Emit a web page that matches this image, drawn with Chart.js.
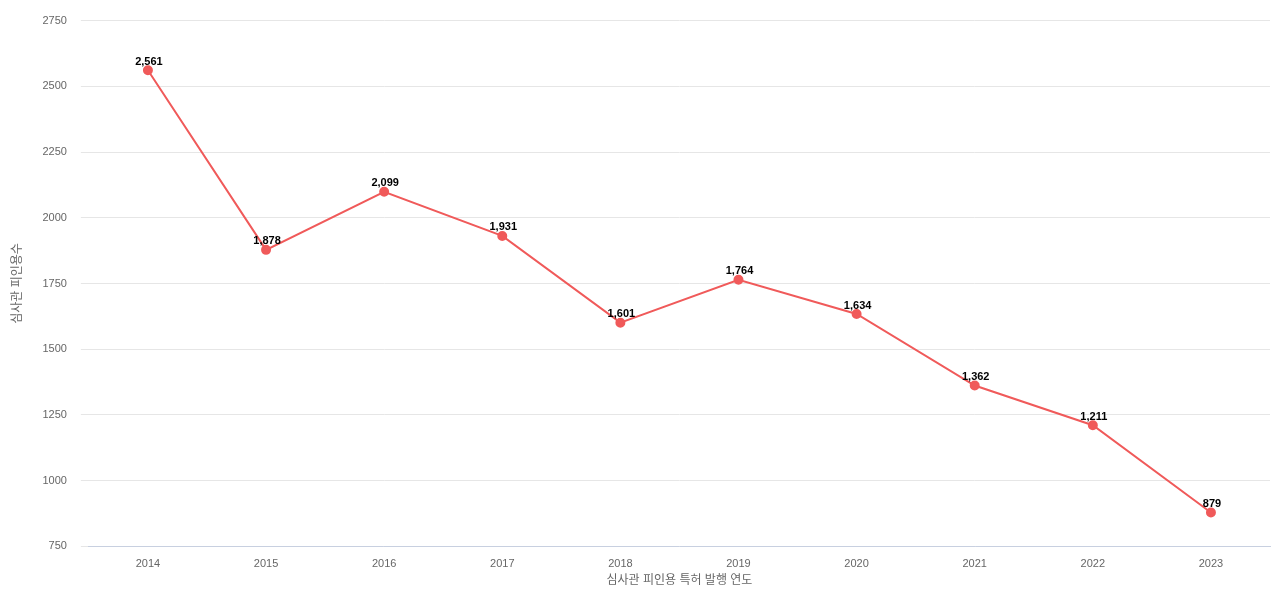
<!DOCTYPE html>
<html>
<head>
<meta charset="utf-8">
<script src="https://cdn.jsdelivr.net/npm/chart.js@4"></script>
<style>
  html, body { margin: 0; padding: 0; background: #fff; }
  #wrap { width: 1280px; height: 600px; }
</style>
</head>
<body>
<div id="wrap"><canvas id="chart"></canvas></div>
<script>
const years = ['2014', '2015', '2016', '2017', '2018', '2019', '2020', '2021', '2022', '2023'];
const counts = [2561, 1878, 2099, 1931, 1601, 1764, 1634, 1362, 1211, 879];
const yTicks = [750, 1000, 1250, 1500, 1750, 2000, 2250, 2500, 2750];

const lineColor = '#f05a5a';
const fontFamily = '"Liberation Sans", Arial, "Noto Sans CJK KR", sans-serif';

// draws value above each point
const valueLabels = {
    id: 'valueLabels',
    afterDatasetsDraw(chart) {
        const ctx = chart.ctx;
        const meta = chart.getDatasetMeta(0);
        ctx.save();
        ctx.font = 'bold 11px ' + fontFamily;
        ctx.fillStyle = '#000';
        ctx.textAlign = 'center';
        ctx.textBaseline = 'bottom';
        meta.data.forEach((pt, i) => {
            ctx.fillText(counts[i].toLocaleString('en-US'), pt.x + 1, pt.y - 3);
        });
        ctx.restore();
    }
};

const config = {
    type: 'line',
    data: {
        labels: years,
        datasets: [{
            data: counts,
            borderColor: lineColor,
            backgroundColor: lineColor,
            borderWidth: 2,
            pointRadius: 4,
            pointHoverRadius: 4,
            tension: 0
        }]
    },
    options: {
        responsive: true,
        maintainAspectRatio: false,
        animation: false,
        layout: { padding: { top: 4, right: 10, left: 6, bottom: 8 } },
        plugins: {
            legend: { display: false },
            tooltip: { enabled: false }
        },
        scales: {
            x: {
                offset: true,
                grid: { display: false },
                border: { color: '#c8d0e0' },
                ticks: { color: '#666', font: { size: 11, family: fontFamily } },
                title: { display: true, text: '심사관 피인용 특허 발행 연도', color: '#666', font: { size: 12, family: fontFamily }, padding: { top: 0 } }
            },
            y: {
                min: 750,
                max: 2750,
                afterBuildTicks: axis => { axis.ticks = yTicks.map(v => ({ value: v })); },
                grid: { color: '#e6e6e6' },
                border: { display: false },
                ticks: { color: '#666', padding: 14, font: { size: 11, family: fontFamily }, callback: v => String(v) },
                title: { display: true, text: '심사관 피인용수', color: '#666', font: { size: 12, family: fontFamily } }
            }
        }
    },
    plugins: [valueLabels]
};

new Chart(document.getElementById('chart'), config);
</script>
</body>
</html>
